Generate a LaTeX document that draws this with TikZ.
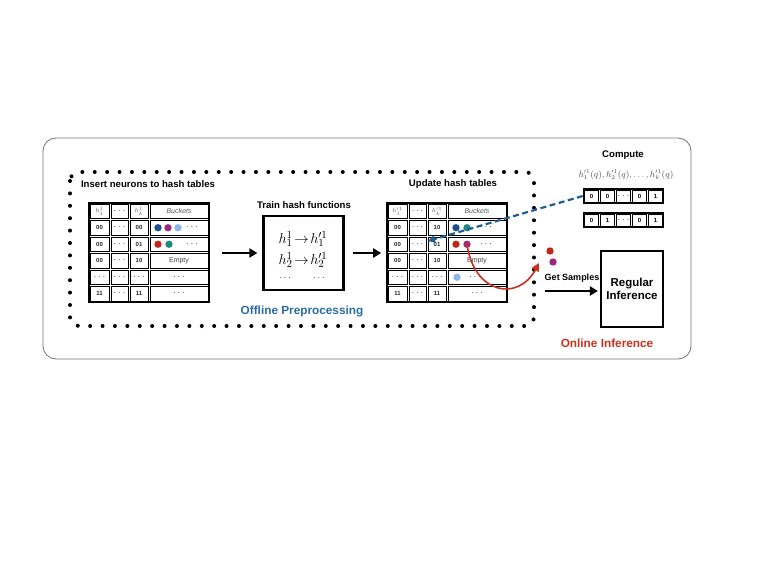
\documentclass[tikz,border=0pt]{standalone}
\usepackage{fontspec}
\setsansfont{Liberation Sans}
\usetikzlibrary{arrows.meta}
\definecolor{cblue}{HTML}{1F4E8C}
\definecolor{cpurple}{HTML}{A0287A}
\definecolor{clblue}{HTML}{8DB6EE}
\definecolor{cred}{HTML}{C0271B}
\definecolor{cteal}{HTML}{1D8A7A}
\definecolor{offblue}{HTML}{2B6CA3}
\definecolor{onred}{HTML}{C8321E}
\definecolor{dashblue}{HTML}{1F5F95}
\newcommand\dd{{\color{black!70}\fontsize{10}{10}\selectfont$\cdots$}}
\newcommand\hd[1]{{\color{black!65}\fontsize{6.5}{6.5}\selectfont #1}}
\newcommand\bk{{\color{black!65}\fontsize{7}{8}\selectfont\mdseries\itshape Buckets}}
\newcommand\emp{{\color{black!75}\fontsize{7}{8}\selectfont\mdseries Empty}}
\begin{document}
\begin{tikzpicture}[x=1pt,y=-1pt,
  cell/.style={draw, line width=0.5pt, inner sep=0pt, minimum height=14.1pt,
    font=\sffamily\bfseries\fontsize{6}{7}\selectfont, text=black!85},
  frame/.style={draw, line width=1.6pt, inner sep=0pt},
  dot/.style={circle, inner sep=0pt, minimum size=7.4pt},
  lbl/.style={font=\sffamily\bfseries\fontsize{9.6}{11}\selectfont, inner sep=1pt},
  bigarrow/.style={line width=2.2pt, -{Triangle[length=8pt,width=9pt]}},
  vcell/.style={draw, line width=0.5pt, inner sep=0pt, minimum width=13.6pt, minimum height=11.6pt,
    font=\sffamily\bfseries\fontsize{6}{7}\selectfont}]
\useasboundingbox (0,0) rectangle (773,580);
% outer box
\draw[black!55, line width=0.8pt, rounded corners=13pt] (43,138) rectangle (691,359);
% dotted region
\draw[line width=4pt, line cap=round, dash pattern=on 0pt off 12.4pt, rounded corners=9pt] (70,172) rectangle (534,326);

% titles
\node[lbl] (t1) at (148,184) {Insert neurons to hash tables};
\node[lbl] (t2) at (304,205) {Train hash functions};
\node[lbl] (t3) at (453,184) {Update hash tables};
\node[font=\sffamily\bfseries\fontsize{11.8}{14}\selectfont, text=offblue] (off) at (302,311) {Offline Preprocessing};

% left table
\begin{scope}[shift={(89,203)}]
\foreach \r/\ca/\cb/\cc/\cd in {0/{\hd{$h_1^1$}}/\dd/{\hd{$h_k^1$}}/\bk, 1/00/\dd/00/{}, 2/00/\dd/01/{}, 3/00/\dd/10/\emp, 4/\dd/\dd/\dd/\dd, 5/11/\dd/11/\dd}{
  \node[cell, minimum width=18.6pt] (L-\r-0) at (10.5,\r*16.5+8.25) {\ca};
  \node[cell, minimum width=16.6pt] (L-\r-1) at (30.5,\r*16.5+8.25) {\cb};
  \node[cell, minimum width=17.6pt] (L-\r-2) at (50,\r*16.5+8.25) {\cc};
  \node[cell, minimum width=57.6pt] (L-\r-3) at (90,\r*16.5+8.25) {\cd};
}
\end{scope}
\node[frame, minimum width=120pt, minimum height=99pt] (Ltab) at (149,252.5) {};
\node[dot, fill=cblue] (Ld1) at (158,227.75) {};
\node[dot, fill=cpurple] (Ld2) at (168,227.75) {};
\node[dot, fill=clblue] (Ld3) at (178,227.75) {};
\node[inner sep=0pt] (Ldd1) at (192,227.75) {\dd};
\node[dot, fill=cred] (Ld4) at (158,244.25) {};
\node[dot, fill=cteal] (Ld5) at (169,244.25) {};
\node[inner sep=0pt] (Ldd2) at (192,244.25) {\dd};

% middle box
\node[frame, line width=2.2pt, minimum width=80pt, minimum height=74pt] (mid) at (303.5,253) {};
\node[font=\fontsize{15.5}{18}\selectfont, inner sep=0pt] (m1) at (303,239) {$h_1^1\!\to\! h_1^{\prime 1}$};
\node[font=\fontsize{15.5}{18}\selectfont, inner sep=0pt] (m2) at (303,260) {$h_2^1\!\to\! h_2^{\prime 1}$};
\node[inner sep=0pt] (m3) at (285,278) {\dd};
\node[inner sep=0pt] (m4) at (319,278) {\dd};

% right table
\begin{scope}[shift={(387,203)}]
\foreach \r/\ca/\cb/\cc/\cd in {0/{\hd{$h_1^{\prime1}$}}/\dd/{\hd{$h_k^{\prime1}$}}/\bk, 1/00/\dd/10/{}, 2/00/\dd/01/{}, 3/00/\dd/10/\emp, 4/\dd/\dd/\dd/{}, 5/11/\dd/11/\dd}{
  \node[cell, minimum width=18.6pt] (R-\r-0) at (10.5,\r*16.5+8.25) {\ca};
  \node[cell, minimum width=16.6pt] (R-\r-1) at (30.5,\r*16.5+8.25) {\cb};
  \node[cell, minimum width=17.6pt] (R-\r-2) at (50,\r*16.5+8.25) {\cc};
  \node[cell, minimum width=57.6pt] (R-\r-3) at (90,\r*16.5+8.25) {\cd};
}
\end{scope}
\node[frame, minimum width=120pt, minimum height=99pt] (Rtab) at (447,252.5) {};
\node[dot, fill=cblue] (Rd1) at (456,227.75) {};
\node[dot, fill=cteal] (Rd2) at (467,227.75) {};
\node[inner sep=0pt] (Rdd1) at (486,227.75) {\dd};
\node[dot, fill=cred] (Rd3) at (456,244.25) {};
\node[dot, fill=cpurple] (Rd4) at (467,244.25) {};
\node[inner sep=0pt] (Rdd2) at (486,244.25) {\dd};
\node[dot, fill=clblue] (Rd5) at (457,277.25) {};
\node[inner sep=0pt] (Rdd3) at (475,277.25) {\dd};

% arrows between stages
\draw[bigarrow, shorten <=12pt, shorten >=5pt] (Ltab.east |- mid.west) -- (mid.west);
\draw[bigarrow, shorten <=8pt, shorten >=5pt] (mid.east) -- (Rtab.west |- mid.east);

% compute
\node[lbl] (comp) at (623,155) {Compute};
\node[font=\fontsize{8.6}{10}\selectfont, text=black!70] (hq) at (626,175) {$h_1^{\prime1}(q),h_2^{\prime1}(q),\ldots,h_k^{\prime1}(q)$};
\foreach \i/\v in {0/0,1/0,2/\dd,3/0,4/1}{
  \node[vcell] (V1-\i) at (591.5+\i*16,196) {\v};
  \node[vcell] (V2-\i) at (591.5+\i*16,220) {\ifnum\i=1 1\else\v\fi};
}
\node[frame, minimum width=80pt, minimum height=14pt] (V1) at (623.5,196) {};
\node[frame, minimum width=80pt, minimum height=14pt] (V2) at (623.5,220) {};

% dashed blue arrow
\coordinate (bt) at (428,241);
\draw[dashblue, line width=2.2pt, dash pattern=on 6pt off 3.5pt, -{Triangle[length=7pt,width=7.5pt]}] (V1.west) -- (bt);

% red curved arrow
\coordinate (rt) at (539,263);
\draw[onred, line width=1.6pt, -{Triangle[length=8pt,width=8pt]}] (Rd4.center) .. controls (474,294) and (518,302) .. (rt);

% sample dots
\node[dot, fill=cred] (s1) at (550,251) {};
\node[dot, fill=cpurple] (s2) at (553,262) {};

% regular inference
\node[frame, line width=2.2pt, minimum width=62pt, minimum height=76pt, align=center,
  font=\sffamily\bfseries\fontsize{11.5}{13.5}\selectfont] (reg) at (632,289) {Regular\\Inference};
\node[lbl, font=\sffamily\bfseries\fontsize{9}{10}\selectfont] (gs) at (572,278) {Get Samples};
\coordinate (gsa) at (545,291);
\draw[bigarrow, shorten >=2pt] (gsa) -- (reg.west |- gsa);
\node[font=\sffamily\bfseries\fontsize{11.8}{14}\selectfont, text=onred] (onl) at (607,343) {Online Inference};
\end{tikzpicture}
\end{document}
